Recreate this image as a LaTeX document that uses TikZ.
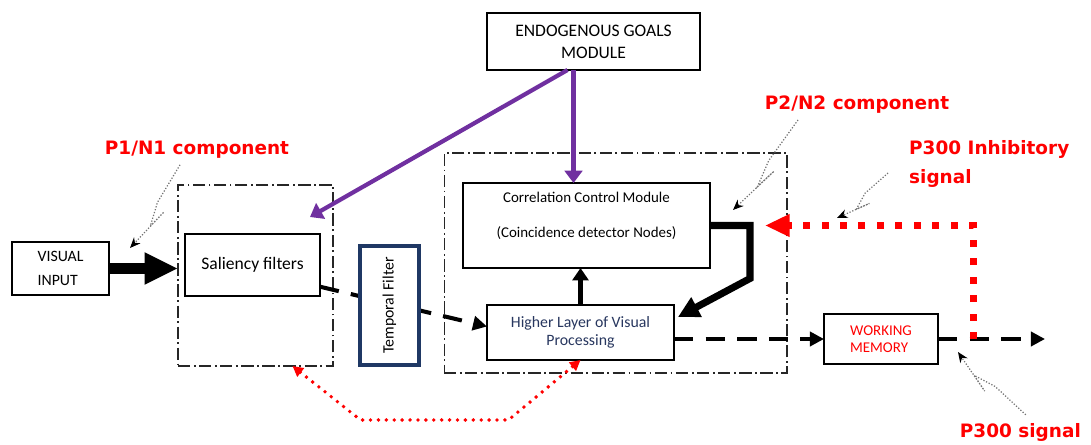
\documentclass[tikz,border=0pt]{standalone}
\usepackage{fontspec}
\setmainfont{Carlito}
\newfontfamily\calloutfont{DejaVu Sans}
\usetikzlibrary{
    arrows.meta,
    calc,
    positioning
}
\definecolor{goalpurple}{RGB}{112,48,160}
\definecolor{filterblue}{RGB}{31,56,100}
\definecolor{signalred}{RGB}{255,0,0}
\definecolor{layertext}{RGB}{40,55,95}
\tikzset{
    % Boxes and frames
    box/.style={draw,line width=0.8pt,fill=white,inner sep=2pt,outer sep=0pt},
    frame/.style={draw=black!85,line width=0.6pt,inner sep=0pt,outer sep=0pt,
        dash pattern=on 7pt off 2pt on 1pt off 2pt},
    component/.style={font=\calloutfont\bfseries\fontsize{10.5}{16}\selectfont,text=signalred},
    %
    % Arrows
    input arrow/.style={line width=6pt,-{Triangle[length=19pt,width=17pt]}},
    flow/.style={line width=2.3pt,dash pattern=on 11pt off 7pt,-{Triangle[length=8pt,width=8pt]}},
    lift/.style={line width=3.4pt,-{Triangle[length=7pt,width=9pt]}},
    feedback/.style={line width=4pt,line join=miter,-{Triangle[length=12pt,width=12pt]}},
    goal arrow/.style={goalpurple,line width=2.4pt,-{Triangle[length=7pt,width=10pt]}},
    inhibit/.style={signalred,line width=4pt,dash pattern=on 4pt off 6.5pt,
        -{Triangle[length=14pt,width=12pt]}},
    recur/.style={signalred,line width=2.2pt,line cap=round,dash pattern=on 0pt off 4.5pt,
        {Triangle[length=6pt,width=6pt]}-{Triangle[length=6pt,width=6pt]}},
    %
    % Lightning callouts
    zigzag/.style={to path={
        -- ($(\tikztostart)!.45!(\tikztotarget)$)
        -- ($(\tikztostart)!.7!(\tikztotarget)!3.5pt!90:(\tikztotarget)$)
        -- ($(\tikztostart)!.5!(\tikztotarget)!6pt!90:(\tikztotarget)$)
        -- (\tikztotarget) \tikztonodes}},
    callout/.style={black!55,densely dotted,line width=0.7pt,zigzag,
        -{Stealth[black,length=6pt,width=5pt]}}
}

\begin{document}
\begin{tikzpicture}[x=0.02cm,y=-0.02cm]
    \useasboundingbox (0,0) rectangle (1091,445);

    % dash-dot frames
    \node[frame,minimum width=3.1cm,minimum height=3.62cm] (salframe) at (255.5,275.5) {};
    \node[frame,minimum width=6.86cm,minimum height=4.4cm] (procframe) at (615.5,263) {};

    % modules
    \node[box,minimum width=1.94cm,minimum height=1.06cm,align=left,
        font=\fontsize{9}{14}\selectfont] (visual) at (60.5,268.5) {VISUAL\\INPUT};
    \node[box,minimum width=2.7cm,minimum height=1.24cm,
        font=\fontsize{10}{12}\selectfont] (saliency) at (252.5,265) {Saliency filters};
    \node[box,minimum width=4.26cm,minimum height=1.14cm,align=center,
        font=\fontsize{10}{12.5}\selectfont] (goals) at (593.5,41.5) {ENDOGENOUS GOALS\\MODULE};
    \node[box,minimum width=4.94cm,minimum height=1.7cm] (corr) at (586.5,225.5) {};
    \node[align=center,font=\fontsize{8.5}{20}\selectfont] (corrtext) at (586.5,215.5)
        {Correlation Control Module\\(Coincidence detector Nodes)};
    \node[box,minimum width=3.74cm,minimum height=1.1cm,align=center,text=layertext,
        font=\fontsize{9}{10.5}\selectfont] (higher) at (580.5,332.5)
        {Higher Layer of Visual\\Processing};
    \node[box,minimum width=2.28cm,minimum height=1cm,align=left,text=signalred,
        font=\fontsize{8.5}{10}\selectfont] (memory) at (881,339) {WORKING\\MEMORY};

    % signal flow
    \draw[input arrow] (visual.east) -- (visual.east -| salframe.west);
    \draw[flow] ($(saliency.south east)!.15!(saliency.north east)$) -- ([yshift=0.12cm]higher.west);
    \node[box,draw=filterblue,line width=2.2pt,rotate=90,minimum width=2.38cm,minimum height=1.18cm,
        font=\fontsize{9}{11}\selectfont] (temporal) at (389.5,305.5) {Temporal Filter};
    \draw[lift] (higher.north) -- (higher.north |- corr.south);
    \draw[feedback] (corr.east) -- ++(40,0) -- ++(0,53) -- ([shift={(4,12)}]higher.north east);
    \draw[flow] (higher.east |- memory.west) -- (memory.west);
    \coordinate (out) at (1045,339);
    \draw[flow] (memory.east) -- (out);

    % endogenous goals
    \coordinate (goaldrop) at ([xshift=-0.4cm]goals.south);
    \draw[goal arrow] (goaldrop) -- (goaldrop |- corr.north);
    \draw[goal arrow] ([xshift=-0.52cm]goals.south) -- ([shift={(-23,32)}]salframe.north east);

    % P300 and recurrent signals
    \coordinate (branch) at ($(memory.east)!.33!(out)$);
    \draw[inhibit] (branch) |- ([xshift=1.1cm]corr.east);
    \draw[recur] ([xshift=0.74cm]salframe.south) -- ++(68,54) -- ++(148,0) -- (higher.south);

    % ERP components
    \node[component] (p1n1) at (197,150) {P1/N1 component};
    \node[component] (p2n2) at (857,105) {P2/N2 component};
    \node[component,align=left,anchor=west] (inhib) at (903,164) {P300 Inhibitory\\signal};
    \node[component,anchor=east] (p300) at (1087,432) {P300 signal};
    \coordinate (p1n1 tip) at (130,248);
    \coordinate (p2n2 tip) at (733,210);
    \coordinate (inhib tip) at (837,218);
    \coordinate (p300 tip) at (958,352);
    \draw[callout] ([xshift=-0.34cm]p1n1.south) to (p1n1 tip);
    \draw[callout] ([xshift=-1.18cm]p2n2.south) to (p2n2 tip);
    \draw[callout] ([shift={(-15,9)}]inhib.west) to (inhib tip);
    \draw[callout] ([shift={(72,-2)}]p300.north west) to (p300 tip);
\end{tikzpicture}
\end{document}
